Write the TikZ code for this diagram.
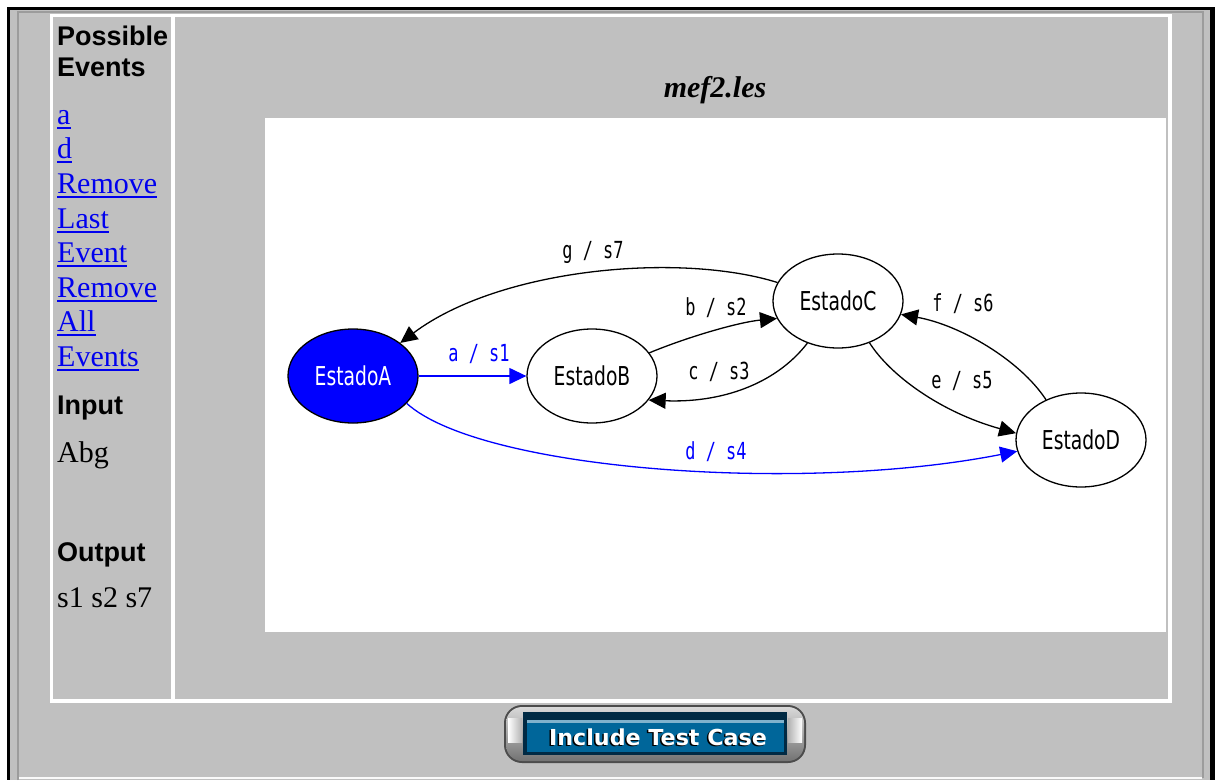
\documentclass[tikz,border=0pt]{standalone}
\usepackage{fontspec}
\setmainfont{Liberation Serif}
\newfontfamily\headfont{Liberation Sans}
\newfontfamily\nodefont[FakeStretch=0.72]{DejaVu Sans}
\newfontfamily\lblfont[FakeStretch=0.72]{DejaVu Sans Mono}
\newfontfamily\btnfont[FakeStretch=1.01]{DejaVu Sans}
\usetikzlibrary{shapes.geometric,arrows.meta}
\definecolor{panel}{HTML}{C0C0C0}
\definecolor{bevel}{HTML}{9C9C9C}
\definecolor{linkblue}{HTML}{0000EE}
\definecolor{pureblue}{HTML}{0000FF}
\definecolor{btnblue}{HTML}{00669A}
\definecolor{btnnavy}{HTML}{002A44}
\tikzset{
  heading/.style={font=\headfont\bfseries\fontsize{27}{31}\selectfont, inner sep=0pt, anchor=base west, align=left},
  plain/.style={font=\fontsize{30}{34}\selectfont, inner sep=0pt, anchor=base west},
  link/.style={plain, text=linkblue},
  uline/.style={linkblue, line width=2pt},
  state/.style={ellipse, draw=black, line width=1.3pt, minimum width=130pt, minimum height=94pt,
                inner sep=0pt, font=\nodefont\fontsize{26}{26}\selectfont},
  edge/.style={draw=black, line width=1.3pt, -{Triangle[length=17pt,width=16pt]}},
  blueedge/.style={edge, draw=pureblue, -{Triangle[length=17pt,width=16pt,fill=pureblue]}},
  lbl/.style={font=\lblfont\fontsize{23.5}{24}\selectfont, inner sep=0pt},
  btntext/.style={font=\btnfont\bfseries\fontsize{22}{22}\selectfont, inner sep=0pt},
}
\begin{document}
\begin{tikzpicture}[x=1pt,y=-1pt]
\useasboundingbox (0,0) rectangle (1215,780);
% page and window frame
\fill[white] (0,0) rectangle (1215,780);
\fill[black] (7,7) rectangle (1215,780);
\fill[panel] (10,10) rectangle (1210,780);
\draw[bevel, line width=2pt] (18,780) -- (18,12) -- (1203,12) -- (1203,778);
\draw[white!90!panel, line width=1.5pt] (19,778) -- (1202,778);
% table with two cells
\fill[white] (50,14) rectangle (1172,703);
\fill[panel] (53,17) rectangle (171,699);
\fill[panel] (175,17) rectangle (1168,699);
% left cell: events, input and output
\node[heading] (hev1) at (57,45) {Possible};
\node[heading] (hev2) at (57,76) {Events};
\foreach \t/\y/\n in {a/124/l1, d/158.5/l2, Remove/193/l3, Last/228/l4, Event/262/l5, Remove/297/l6, All/331/l7, Events/366/l8}{
  \node[link] (\n) at (57,\y) {\t};
  \draw[uline] ([yshift=-3.5pt]\n.base west) -- ([yshift=-3.5pt]\n.base east);
}
\node[heading] (hin) at (57,414) {Input};
\node[plain] (vin) at (57,462) {Abg};
\node[heading] (hout) at (57,561) {Output};
\node[plain] (vout) at (57,607) {s1 s2 s7};
% right cell: title and state machine
\node[font=\bfseries\itshape\fontsize{30}{34}\selectfont, inner sep=0pt, anchor=base] (title) at (715,97) {mef2.les};
\fill[white] (265,118) rectangle (1166,632);
\node[state, fill=pureblue, text=white] (A) at (353,376) {EstadoA};
\node[state] (B) at (592,376) {EstadoB};
\node[state] (C) at (838,301) {EstadoC};
\node[state] (D) at (1081,440) {EstadoD};
\draw[blueedge] (A.east) -- (B.west);
\draw[blueedge] (A.-27) .. controls (480,470) and (800,494) .. (D.190);
\draw[edge] (C.163) .. controls (680,252) and (500,268) .. (A.35);
\draw[edge] (B.22) .. controls (690,336) and (740,322) .. (C.196);
\draw[edge] (C.234) .. controls (775,385) and (720,403) .. (B.337);
\draw[edge] (C.-53) .. controls (890,375) and (940,412) .. (D.174);
\draw[edge] (D.131) .. controls (1020,360) and (960,325) .. (C.-12);
\node[lbl, text=pureblue] (la) at (479,354) {a / s1};
\node[lbl, text=pureblue] (ld) at (716,452) {d / s4};
\node[lbl] (lg) at (593,252) {g / s7};
\node[lbl] (lb) at (716,308) {b / s2};
\node[lbl] (lc) at (719,372) {c / s3};
\node[lbl] (le) at (962,381) {e / s5};
\node[lbl] (lf) at (963,304) {f / s6};
% button: silver capsule with a blue face
\fill[black!70, rounded corners=18pt] (504,705) rectangle (806,763);
\shade[top color=black!15, bottom color=black!55, rounded corners=16pt] (506,707) rectangle (804,761);
\shade[left color=white, right color=black!30] (508,718) rectangle (522,742);
\shade[left color=black!30, right color=white] (788,718) rectangle (802,742);
\fill[btnnavy] (523,712) rectangle (787,755);
\fill[btnblue] (527,720) rectangle (784,752);
\fill[btnblue!50!white] (527,720) rectangle (784,723);
\node[btntext, text=black] at (656.5,738.5) {Include Test Case};
\node[btntext, text=white] (btn) at (658,737) {Include Test Case};
\end{tikzpicture}
\end{document}
